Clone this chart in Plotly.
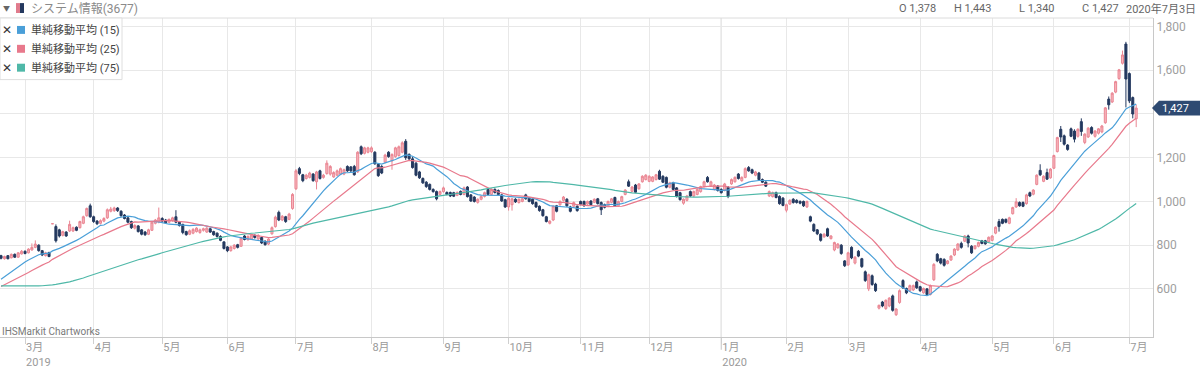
import pandas as pd
import plotly.graph_objects as go

# ---------------- data ----------------
holidays = ["2019-03-21", "2019-04-29", "2019-04-30", "2019-05-01", "2019-05-02", "2019-05-03",
            "2019-05-06", "2019-07-15", "2019-08-12", "2019-09-16", "2019-09-23", "2019-10-14",
            "2019-10-22", "2019-11-04", "2019-12-31", "2020-01-01", "2020-01-02", "2020-01-03",
            "2020-01-13", "2020-02-11", "2020-02-24", "2020-03-20", "2020-04-29", "2020-05-04",
            "2020-05-05", "2020-05-06"]

opens = [752, 738, 752, 742, 758, 745, 760, 772, 765, 778, 790, 800, 775, 752, 766, 898, 885, 870, 845, 860,
         865, 865, 882, 880, 900, 935, 980, 930, 910, 900, 910, 925, 955, 958, 970, 955, 938, 925, 908, 878,
         888, 870, 860, 850, 868, 900, 905, 922, 915, 905, 912, 930, 905, 895, 862, 850, 855, 862, 858, 868,
         860, 875, 862, 855, 840, 815, 792, 775, 785, 802, 795, 842, 825, 828, 845, 828, 835, 818, 805, 852,
         885, 950, 915, 930, 918, 968, 1058, 1150, 1122, 1105, 1110, 1125, 1090, 1140, 1110, 1128, 1125, 1112, 1120, 1125,
         1125, 1160, 1158, 1160, 1135, 1250, 1220, 1225, 1228, 1225, 1170, 1160, 1180, 1225, 1185, 1205, 1210, 1225, 1275, 1215,
         1195, 1175, 1135, 1105, 1088, 1078, 1055, 1045, 1032, 1045, 1041, 1041, 1040, 1028, 1046, 1032, 1066, 1030, 1020, 996,
         1010, 1023, 1055, 1032, 1055, 1050, 1030, 1008, 975, 985, 1010, 995, 1000, 1030, 1015, 1010, 995, 978, 962, 930,
         900, 915, 980, 985, 1005, 1010, 975, 978, 978, 1000, 1000, 988, 1002, 996, 1012, 995, 985, 978, 996, 1018,
         980, 1000, 1032, 1090, 1046, 1075, 1058, 1090, 1100, 1092, 1092, 1100, 1138, 1115, 1110, 1065, 1085, 1062, 1040, 992,
         1005, 1045, 1025, 1032, 1045, 1068, 1110, 1070, 1055, 1070, 1055, 1050, 1065, 1080, 1090, 1125, 1095, 1110, 1155, 1145,
         1120, 1130, 1100, 1088, 1025, 1022, 1040, 1023, 1015, 960, 988, 1010, 1005, 1000, 1000, 975, 930, 895, 870, 850,
         838, 875, 830, 778, 788, 800, 728, 710, 790, 718, 772, 738, 678, 600, 660, 622, 512, 540, 510, 522,
         568, 482, 538, 638, 602, 592, 595, 632, 610, 582, 600, 575, 642, 758, 738, 735, 716, 732, 755, 778,
         808, 818, 842, 795, 784, 795, 820, 820, 815, 822, 855, 908, 918, 918, 900, 944, 975, 995, 995, 990,
         1040, 1033, 1078, 1142, 1092, 1132, 1108, 1152, 1228, 1330, 1300, 1258, 1332, 1322, 1298, 1365, 1270, 1295, 1338, 1298,
         1312, 1318, 1360, 1468, 1455, 1500, 1562, 1632, 1720, 1585, 1475, 1378]

highs = [756, 752, 755, 762, 762, 768, 778, 776, 786, 808, 822, 804, 778, 770, 770, 898, 895, 875, 866, 864,
         912, 885, 886, 912, 935, 972, 990, 935, 915, 918, 928, 968, 975, 976, 974, 960, 942, 928, 912, 896,
         892, 874, 865, 875, 910, 920, 972, 928, 920, 922, 930, 960, 910, 898, 866, 872, 878, 882, 876, 880,
         884, 880, 866, 858, 845, 818, 796, 797, 805, 806, 836, 846, 845, 850, 850, 850, 838, 822, 832, 886,
         935, 958, 938, 934, 948, 1038, 1148, 1158, 1126, 1126, 1136, 1130, 1140, 1145, 1126, 1188, 1166, 1138, 1146, 1155,
         1150, 1165, 1162, 1167, 1230, 1256, 1250, 1250, 1252, 1230, 1175, 1166, 1218, 1230, 1220, 1250, 1256, 1275, 1285, 1220,
         1205, 1180, 1140, 1110, 1093, 1082, 1060, 1050, 1050, 1068, 1046, 1045, 1044, 1046, 1050, 1068, 1070, 1034, 1024, 1014,
         1027, 1045, 1060, 1060, 1060, 1055, 1035, 1012, 1020, 1016, 1015, 1014, 1016, 1035, 1020, 1014, 1000, 982, 966, 934,
         914, 982, 984, 1005, 1025, 1015, 980, 1000, 982, 1004, 1004, 1004, 1006, 1014, 1016, 1000, 990, 1004, 1016, 1022,
         1004, 1026, 1056, 1100, 1070, 1080, 1084, 1120, 1125, 1120, 1116, 1126, 1145, 1120, 1114, 1090, 1090, 1066, 1044, 1014,
         1030, 1050, 1050, 1060, 1072, 1095, 1116, 1095, 1080, 1075, 1060, 1085, 1070, 1105, 1115, 1130, 1115, 1156, 1162, 1150,
         1140, 1135, 1105, 1092, 1050, 1045, 1045, 1028, 1020, 990, 1010, 1015, 1010, 1005, 1004, 1004, 935, 900, 874, 854,
         856, 880, 846, 816, 810, 805, 732, 770, 795, 750, 778, 742, 684, 670, 666, 628, 528, 545, 552, 562,
         574, 512, 598, 644, 606, 620, 620, 638, 614, 606, 604, 620, 718, 764, 742, 740, 732, 754, 786, 810,
         816, 846, 848, 800, 800, 816, 824, 824, 840, 846, 886, 920, 922, 922, 930, 976, 1015, 1000, 1000, 1035,
         1045, 1056, 1124, 1170, 1120, 1150, 1152, 1214, 1296, 1345, 1306, 1262, 1338, 1330, 1335, 1380, 1312, 1340, 1344, 1326,
         1336, 1350, 1432, 1480, 1500, 1552, 1606, 1690, 1730, 1590, 1480, 1443]

lows = [735, 734, 735, 740, 742, 743, 757, 758, 762, 775, 786, 770, 750, 748, 745, 898, 812, 835, 840, 838,
        860, 860, 864, 876, 896, 930, 925, 902, 892, 895, 905, 920, 950, 952, 952, 930, 918, 900, 874, 872,
        858, 845, 842, 846, 865, 895, 900, 905, 898, 900, 908, 900, 885, 850, 843, 846, 850, 858, 852, 862,
        856, 856, 843, 835, 818, 780, 768, 770, 780, 785, 792, 822, 820, 824, 830, 824, 805, 798, 800, 848,
        880, 910, 910, 902, 914, 962, 1052, 1120, 1088, 1100, 1105, 1090, 1055, 1100, 1104, 1122, 1118, 1108, 1115, 1120,
        1120, 1135, 1135, 1118, 1130, 1212, 1215, 1220, 1222, 1168, 1112, 1125, 1175, 1200, 1145, 1200, 1205, 1220, 1190, 1188,
        1150, 1115, 1103, 1080, 1062, 1050, 1040, 1005, 1028, 1040, 1028, 1020, 1020, 1024, 1028, 1028, 1018, 998, 995, 990,
        1005, 1018, 1028, 1028, 1036, 1028, 998, 970, 958, 958, 993, 990, 996, 1008, 996, 985, 970, 953, 930, 904,
        895, 910, 950, 980, 1000, 975, 950, 972, 953, 982, 976, 984, 980, 992, 986, 938, 968, 974, 992, 976,
        976, 996, 1028, 1066, 1042, 1038, 1054, 1086, 1096, 1088, 1088, 1096, 1098, 1084, 1060, 1060, 1050, 1018, 1004, 985,
        1000, 1020, 1020, 1028, 1040, 1064, 1086, 1066, 1050, 1045, 1036, 1046, 1015, 1076, 1086, 1100, 1090, 1106, 1136, 1125,
        1115, 1095, 1084, 1066, 1020, 1018, 1014, 985, 978, 950, 984, 990, 990, 987, 975, 970, 905, 860, 846, 816,
        834, 838, 826, 772, 784, 756, 700, 705, 736, 712, 745, 696, 632, 590, 614, 586, 506, 516, 504, 516,
        496, 476, 532, 600, 576, 588, 590, 600, 586, 578, 570, 570, 636, 722, 712, 702, 712, 728, 750, 774,
        784, 814, 790, 760, 780, 790, 804, 802, 810, 818, 850, 862, 896, 900, 896, 940, 970, 976, 974, 985,
        1020, 1028, 1074, 1116, 1088, 1098, 1104, 1148, 1224, 1272, 1256, 1232, 1294, 1270, 1292, 1300, 1262, 1290, 1306, 1292,
        1306, 1312, 1355, 1420, 1450, 1495, 1556, 1626, 1430, 1450, 1380, 1340]

closes = [740, 748, 738, 758, 745, 765, 772, 762, 782, 790, 805, 775, 755, 765, 748, 898, 820, 842, 862, 842,
          895, 880, 868, 908, 930, 968, 930, 908, 898, 912, 922, 962, 965, 970, 958, 935, 922, 905, 880, 890,
          862, 850, 848, 870, 905, 915, 925, 910, 902, 918, 925, 905, 890, 858, 848, 866, 872, 878, 870, 875,
          878, 860, 848, 840, 822, 785, 775, 792, 800, 790, 832, 826, 840, 846, 835, 845, 810, 802, 828, 880,
          928, 915, 932, 908, 942, 1032, 1140, 1128, 1095, 1120, 1130, 1095, 1135, 1105, 1120, 1175, 1160, 1132, 1140, 1150,
          1145, 1140, 1140, 1122, 1225, 1218, 1245, 1245, 1245, 1172, 1118, 1130, 1212, 1205, 1215, 1245, 1250, 1268, 1200, 1195,
          1155, 1120, 1108, 1085, 1068, 1055, 1045, 1012, 1045, 1062, 1032, 1025, 1024, 1041, 1032, 1062, 1022, 1002, 1000, 1010,
          1023, 1040, 1032, 1055, 1041, 1032, 1002, 975, 1015, 1012, 998, 1010, 1012, 1012, 1000, 990, 975, 958, 935, 908,
          910, 978, 955, 1000, 1020, 980, 955, 995, 958, 987, 980, 1000, 985, 1010, 990, 962, 973, 1000, 1012, 980,
          1000, 1022, 1052, 1070, 1066, 1042, 1080, 1115, 1120, 1115, 1112, 1122, 1102, 1088, 1065, 1085, 1055, 1023, 1008, 1010,
          1025, 1025, 1045, 1055, 1068, 1090, 1090, 1090, 1075, 1050, 1040, 1080, 1023, 1100, 1110, 1105, 1110, 1150, 1140, 1130,
          1135, 1100, 1088, 1070, 1045, 1040, 1018, 990, 982, 985, 1005, 995, 995, 992, 980, 1000, 910, 865, 852, 822,
          850, 842, 842, 812, 805, 762, 706, 765, 742, 745, 750, 702, 638, 665, 620, 592, 525, 522, 548, 558,
          502, 508, 592, 605, 582, 615, 615, 605, 592, 602, 574, 615, 712, 728, 718, 708, 728, 750, 782, 805,
          790, 842, 810, 765, 797, 812, 808, 806, 836, 842, 882, 885, 900, 905, 925, 972, 998, 980, 978, 1030,
          1025, 1052, 1120, 1122, 1115, 1102, 1148, 1210, 1292, 1295, 1262, 1238, 1298, 1285, 1330, 1320, 1308, 1335, 1312, 1322,
          1332, 1345, 1428, 1442, 1495, 1548, 1602, 1670, 1560, 1460, 1400, 1427]

# closes before the first visible day (only used by the moving averages)
closes_prior = [765, 770, 760, 775, 768, 760, 772, 765, 758, 750, 745, 738, 725,
                705, 688, 672, 660, 641, 622, 605, 590, 578, 565, 552, 540, 528, 518, 510, 522, 530,
                526, 535, 540, 534, 545, 540, 548, 544, 536, 540, 546, 550, 544, 538, 546, 552, 548,
                555, 550, 545,
                555, 560, 550, 565, 558, 562, 570, 555, 560, 575,
                570, 575, 580, 578, 590, 595, 615, 650, 670, 660, 680, 700, 720, 742]

ma_periods = [15, 25, 75]
ma_colors = ["#4a9fd8", "#e8798c", "#4fb8a8"]
ma_names = ["単純移動平均 (15)", "単純移動平均 (25)", "単純移動平均 (75)"]
y_ticks = [600, 800, 1000, 1200, 1400, 1600, 1800]
y_ticktext = ["600", "800", "1,000", "1,200", "", "1,600", "1,800"]  # 1,400 is hidden behind the price tag
header_ohlc = ["O 1,378", "H 1,443", "L 1,340", "C 1,427"]
last_close_label = "1,427"

# ---------------- trading-day categories ----------------
hol = set(pd.to_datetime(holidays))
days = [d for d in pd.bdate_range("2019-02-20", "2020-07-03") if d not in hol]
n = min(len(days), len(closes))
days = days[:n]
dates = [d.strftime("%Y-%m-%d") for d in days]

tickvals, ticktext = [], []
seen = set()
for d, s in zip(days, dates):
    key = (d.year, d.month)
    if key in seen:
        continue
    seen.add(key)
    if d < pd.Timestamp("2019-03-01"):
        continue
    lab = f"{d.month}月"
    if d.month == 1 or (d.year == 2019 and d.month == 3):
        lab += f"<br>{d.year}"
    tickvals.append(s)
    ticktext.append(lab)
year_sep = next(s for d, s in zip(days, dates) if d.year == 2020)

allc = pd.Series(closes_prior + closes[:n], dtype=float)
mas = [allc.rolling(p).mean().iloc[len(closes_prior):].tolist() for p in ma_periods]

# ---------------- figure ----------------
FONT = "Roboto, 'Noto Sans CJK JP', 'DejaVu Sans', sans-serif"
W, H = 1200, 369
L, R, T, B = 0, 47, 18, 30
PW, PH = W - L - R, H - T - B


def px(x):
    return (x - L) / PW


def py(y):
    return (H - B - y) / PH


fig = go.Figure()
fig.add_trace(go.Candlestick(
    x=dates, open=opens[:n], high=highs[:n], low=lows[:n], close=closes[:n],
    increasing=dict(line=dict(color="#ea8693", width=1), fillcolor="#f6b5bc"),
    decreasing=dict(line=dict(color="#24395f", width=1), fillcolor="#24395f"),
    whiskerwidth=0, hoverinfo="skip", showlegend=False,
))
for vals, col in zip(mas, ma_colors):
    fig.add_trace(go.Scatter(x=dates, y=vals, mode="lines",
                             line=dict(color=col, width=1.2), hoverinfo="skip", showlegend=False))

shapes = []
annotations = []

# year separator
shapes.append(dict(type="line", xref="x", yref="paper", x0=year_sep, x1=year_sep, y0=-0.04, y1=1,
                   line=dict(color="#c4c4c4", width=1), layer="below"))
# top border of the plot
shapes.append(dict(type="line", xref="paper", yref="paper", x0=0, x1=1, y0=1, y1=1,
                   line=dict(color="#dcdcdc", width=1)))

# legend box
shapes.append(dict(type="rect", xref="paper", yref="paper", x0=px(0), x1=px(122), y0=py(80), y1=py(18),
                   fillcolor="white", line=dict(color="#dedede", width=1), layer="above"))
for k, (name, col) in enumerate(zip(ma_names, ma_colors)):
    yy = 30 + 19 * k
    annotations.append(dict(text="✕", x=px(7), y=py(yy), xref="paper", yref="paper", showarrow=False,
                            xanchor="center", yanchor="middle", font=dict(size=12, color="#333", family=FONT)))
    shapes.append(dict(type="rect", xref="paper", yref="paper", x0=px(17), x1=px(25), y0=py(yy + 4),
                       y1=py(yy - 4), fillcolor=col, line=dict(width=0), layer="above"))
    annotations.append(dict(text=name, x=px(29), y=py(yy), xref="paper", yref="paper", showarrow=False,
                            xanchor="left", yanchor="middle", font=dict(size=11, color="#444", family=FONT)))

# header
annotations.append(dict(text="▼", x=px(6), y=py(8.5), xref="paper", yref="paper", showarrow=False,
                        xanchor="center", yanchor="middle", font=dict(size=7, color="#666", family=FONT)))
shapes.append(dict(type="rect", xref="paper", yref="paper", x0=px(16), x1=px(20), y0=py(13), y1=py(3),
                   fillcolor="#e07b8c", line=dict(width=0)))
shapes.append(dict(type="rect", xref="paper", yref="paper", x0=px(20), x1=px(24), y0=py(13), y1=py(3),
                   fillcolor="#24395f", line=dict(width=0)))
annotations.append(dict(text="システム情報(3677)", x=px(29), y=py(8.5), xref="paper", yref="paper",
                        showarrow=False, xanchor="left", yanchor="middle",
                        font=dict(size=12, color="#8a8a8a", family=FONT)))
for txt, xx in zip(header_ohlc, [897, 952, 1017, 1080]):
    annotations.append(dict(text=txt, x=px(xx), y=py(8.5), xref="paper", yref="paper", showarrow=False,
                            xanchor="left", yanchor="middle", font=dict(size=11, color="#666", family=FONT)))
annotations.append(dict(text="2020年7月3日", x=px(1198), y=py(8.5), xref="paper", yref="paper",
                        showarrow=False, xanchor="right", yanchor="middle",
                        font=dict(size=11, color="#666", family=FONT)))

# watermark
annotations.append(dict(text="IHSMarkit Chartworks", x=px(0), y=py(333), xref="paper", yref="paper",
                        showarrow=False, xanchor="left", yanchor="middle",
                        font=dict(size=10, color="#7a7a7a", family=FONT)))

# last price tag
last = closes[n - 1]
yr = [380, 1839]
upp = (yr[1] - yr[0]) / PH  # value units per pixel
hh = 7.5 * upp
shapes.append(dict(type="path", xref="paper", yref="y", layer="above",
                   path=(f"M {px(1152)},{last} L {px(1159)},{last + hh} L {px(1200)},{last + hh} "
                         f"L {px(1200)},{last - hh} L {px(1159)},{last - hh} Z"),
                   fillcolor="#2e4a72", line=dict(width=0)))
annotations.append(dict(text=last_close_label, x=px(1160), y=last, xref="paper", yref="y", showarrow=False,
                        xanchor="left", yanchor="middle", font=dict(size=11, color="white", family=FONT)))

fig.update_layout(
    width=W, height=H, margin=dict(l=L, r=R, t=T, b=B),
    paper_bgcolor="white", plot_bgcolor="white", showlegend=False,
    font=dict(family=FONT),
    shapes=shapes, annotations=annotations,
    xaxis=dict(type="category", categoryorder="array", categoryarray=dates,
               range=[-0.3, 335.9], rangeslider=dict(visible=False),
               tickmode="array", tickvals=tickvals, ticktext=ticktext,
               ticks="outside", ticklen=6, tickcolor="#cfcfcf",
               ticklabelposition="outside right",
               tickfont=dict(size=11, color="#9a9a9a", family=FONT),
               showgrid=True, gridcolor="#e8e8e8", gridwidth=1,
               showline=True, linecolor="#c8c8c8", linewidth=1, zeroline=False),
    yaxis=dict(side="right", range=yr, tickmode="array", tickvals=y_ticks, ticktext=y_ticktext,
               tickfont=dict(size=12, color="#9e9e9e", family=FONT),
               showgrid=True, gridcolor="#e8e8e8", gridwidth=1,
               showline=True, linecolor="#c8c8c8", linewidth=1, zeroline=False, ticks=""),
    boxgap=0.15,
)

fig.write_html("out.html", config={"displayModeBar": False},
               post_script="document.body.style.margin='0';document.body.style.padding='0';")
